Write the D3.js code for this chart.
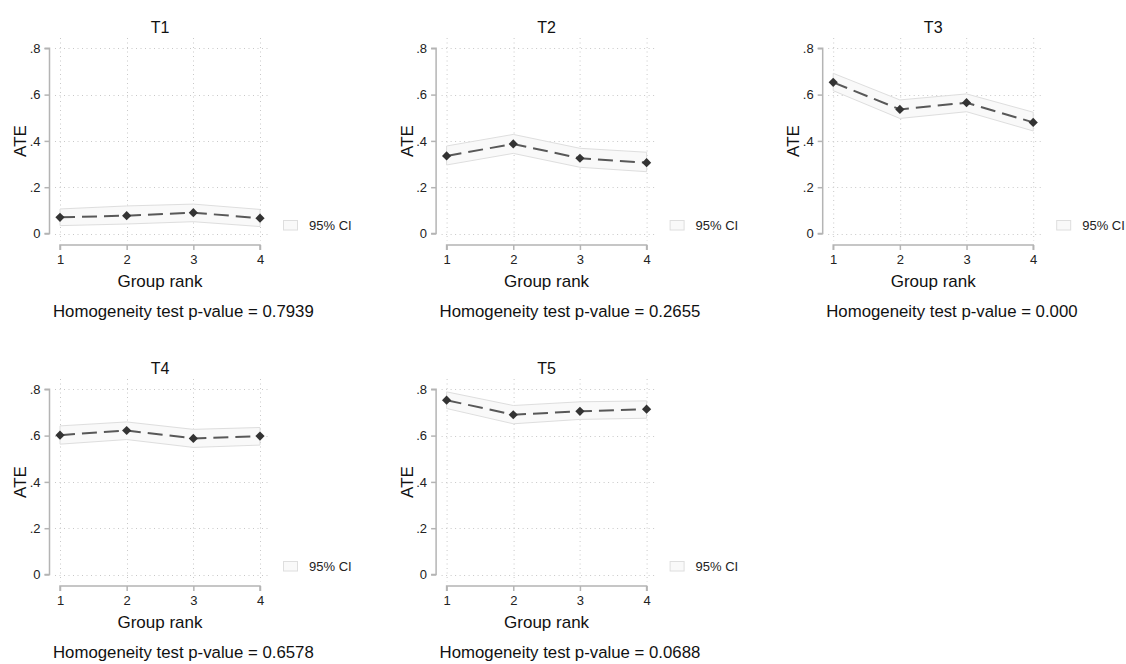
<!DOCTYPE html>
<html><head><meta charset="utf-8">
<script src="https://cdn.jsdelivr.net/npm/d3@7"></script>
<style>
html,body{margin:0;padding:0;background:#fff;}
svg{display:block;font-family:"Liberation Sans",Arial,sans-serif;}
</style></head>
<body>
<svg id="chart" width="1126" height="664"></svg>
<script>
const panelNames = ["T1","T2","T3","T4","T5"];
const groups = [1,2,3,4];
const yTicks = [0,0.2,0.4,0.6,0.8];
const yTickLabels = ["0",".2",".4",".6",".8"];
const ateT1 = [0.070,0.077,0.090,0.066];
const loT1  = [0.034,0.041,0.051,0.030];
const hiT1  = [0.106,0.119,0.127,0.104];
const ateT2 = [0.335,0.387,0.325,0.306];
const loT2  = [0.296,0.346,0.286,0.267];
const hiT2  = [0.378,0.428,0.368,0.351];
const ateT3 = [0.653,0.536,0.565,0.480];
const loT3  = [0.617,0.497,0.526,0.443];
const hiT3  = [0.692,0.577,0.603,0.524];
const ateT4 = [0.602,0.622,0.588,0.598];
const loT4  = [0.563,0.583,0.549,0.559];
const hiT4  = [0.642,0.659,0.627,0.635];
const ateT5 = [0.753,0.690,0.705,0.714];
const loT5  = [0.717,0.651,0.670,0.675];
const hiT5  = [0.789,0.730,0.746,0.750];
const pValues = ["0.7939","0.2655","0.000","0.6578","0.0688"];

const ates = [ateT1,ateT2,ateT3,ateT4,ateT5];
const los = [loT1,loT2,loT3,loT4,loT5];
const his = [hiT1,hiT2,hiT3,hiT4,hiT5];

const svg = d3.select("#chart");
const DX = 386.6, DY = 341;

panelNames.forEach((name,i)=>{
  const col = i%3, row = Math.floor(i/3);
  const g = svg.append("g").attr("transform",`translate(${col*DX},${row*DY})`);
  const x = d3.scaleLinear().domain([1,4]).range([60,260]);
  const y = d3.scaleLinear().domain([0,0.8]).range([233.5,48.3]);

  // grid
  const grid = g.append("g").attr("stroke","#c8c8c8").attr("stroke-width",1).attr("stroke-dasharray","1,3.5");
  yTicks.forEach(t=>{
    grid.append("line").attr("x1",55).attr("x2",268).attr("y1",Math.round(y(t))+0.5).attr("y2",Math.round(y(t))+0.5);
  });
  groups.forEach(t=>{
    grid.append("line").attr("y1",38).attr("y2",241).attr("x1",Math.round(x(t))+0.5).attr("x2",Math.round(x(t))+0.5);
  });

  // CI band
  const data = groups.map((gr,j)=>({g:gr,v:ates[i][j],lo:los[i][j],hi:his[i][j]}));
  const area = d3.area().x(d=>x(d.g)).y0(d=>y(d.lo)).y1(d=>y(d.hi));
  g.append("path").datum(data).attr("d",area).attr("fill","#f9f9f9").attr("stroke","#dedede").attr("stroke-width",1);

  // line
  const line = d3.line().x(d=>x(d.g)).y(d=>y(d.v));
  g.append("path").datum(data).attr("d",line).attr("fill","none").attr("stroke","#585858").attr("stroke-width",2).attr("stroke-dasharray","15,7");
  // markers (square-proportioned diamond)
  const r = 4.6;
  g.selectAll(".m").data(data).enter().append("path")
    .attr("transform",d=>`translate(${x(d.g)},${y(d.v)})`)
    .attr("d",`M0,${-r}L${r},0L0,${r}L${-r},0Z`).attr("fill","#333");

  // y axis
  const yAxis = d3.axisLeft(y).tickValues(yTicks).tickFormat((d,k)=>yTickLabels[k]).tickSize(5).tickPadding(4);
  const ya = g.append("g").attr("transform","translate(49.5,0)").call(yAxis);
  ya.select(".domain").attr("d",`M-5,${y(0.8)}H0V${y(0)}H-5`).attr("stroke","#b4b4b4").attr("stroke-width",1.5);
  ya.selectAll(".tick line").attr("stroke","#b4b4b4").attr("stroke-width",1.5);
  ya.selectAll(".tick text").attr("font-size",13).attr("fill","#222").attr("font-family","Liberation Sans, Arial, sans-serif");

  // x axis
  const xAxis = d3.axisBottom(x).tickValues(groups).tickFormat(d3.format("d")).tickSize(5).tickPadding(5);
  const xa = g.append("g").attr("transform","translate(0,245)").call(xAxis);
  xa.select(".domain").attr("d",`M${x(1)},5V0H${x(4)}V5`).attr("stroke","#b4b4b4").attr("stroke-width",1.5);
  xa.selectAll(".tick line").attr("stroke","#b4b4b4").attr("stroke-width",1.5);
  xa.selectAll(".tick text").attr("font-size",13).attr("fill","#222").attr("font-family","Liberation Sans, Arial, sans-serif");

  // titles
  g.append("text").attr("x",160).attr("y",33).attr("text-anchor","middle").attr("font-size",16).attr("fill","#111").text(name);
  g.append("text").attr("transform","translate(26,141) rotate(-90)").attr("text-anchor","middle").attr("font-size",17).attr("fill","#111").text("ATE");
  g.append("text").attr("x",160).attr("y",287).attr("text-anchor","middle").attr("font-size",17).attr("fill","#111").text("Group rank");
  g.append("text").attr("x",53).attr("y",317).attr("font-size",16.8).attr("fill","#111").text("Homogeneity test p-value = " + pValues[i]);

  // legend
  g.append("rect").attr("x",283.5).attr("y",220.5).attr("width",14).attr("height",9.5).attr("fill","#f9f9f9").attr("stroke","#dedede");
  g.append("text").attr("x",309).attr("y",229.5).attr("font-size",13).attr("fill","#222").text("95% CI");
});
</script>
</body></html>
